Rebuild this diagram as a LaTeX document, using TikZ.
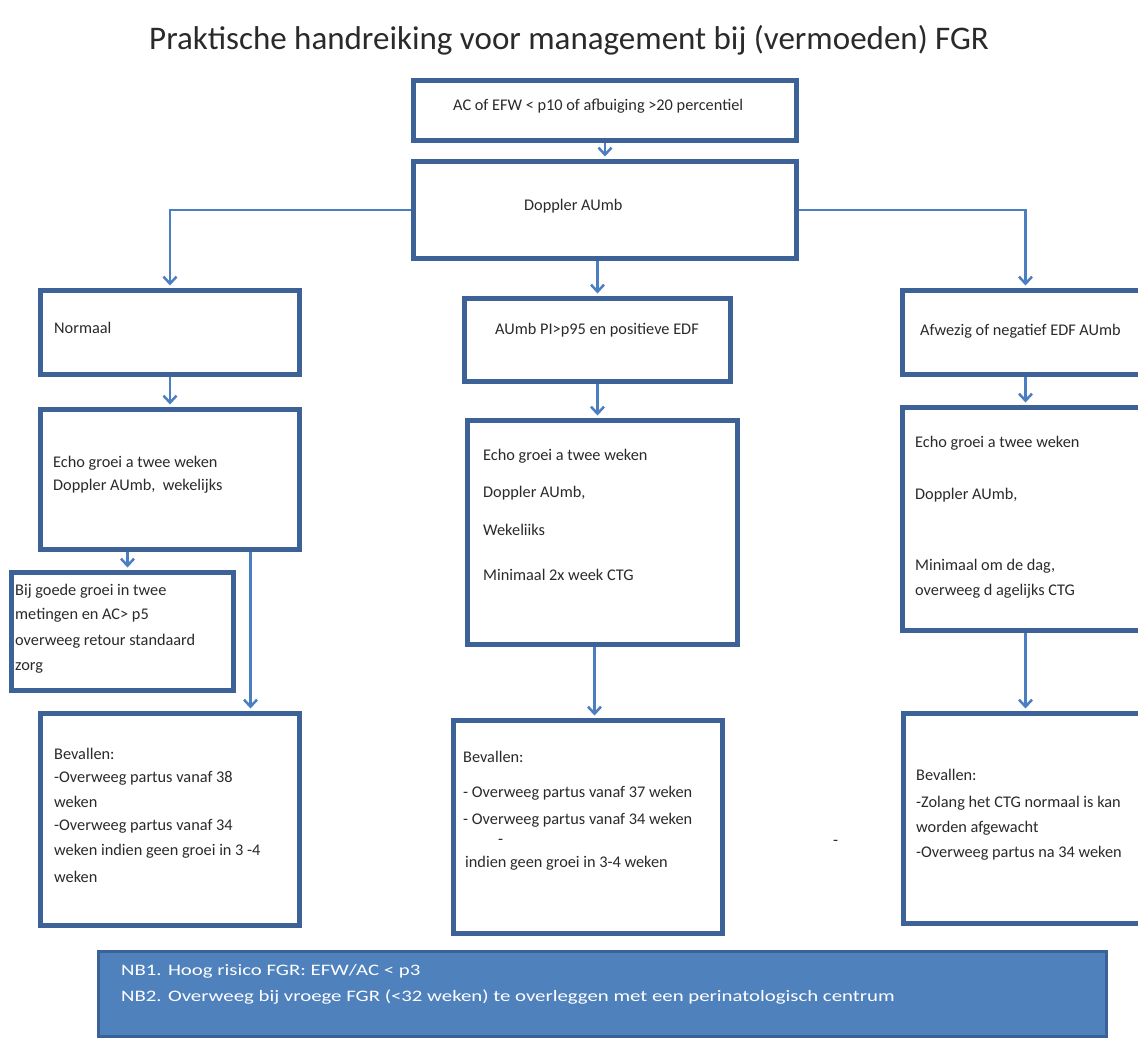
\documentclass[tikz,border=0pt]{standalone}
\usepackage{fontspec}
\setmainfont{Carlito}
\newfontfamily\nbfont[FakeStretch=1.3]{Carlito}
\usetikzlibrary{arrows.meta,calc}
\definecolor{boxc}{HTML}{3D6298}
\definecolor{arrc}{HTML}{4C7FC2}
\definecolor{nbfill}{HTML}{4F81BD}
\definecolor{nbline}{HTML}{3A6298}
\definecolor{txt}{HTML}{2A2A2A}
\tikzset{
  box/.style={draw=boxc, line width=5pt, inner sep=0pt, anchor=north west},
  lbl/.style={anchor=mid west, inner sep=0pt, text=txt, font=\fontsize{16.3}{18}\selectfont},
  nbtxt/.style={anchor=mid west, inner sep=0pt, text=white, font=\nbfont\fontsize{16}{18}\selectfont},
  arr/.style={draw=arrc, line width=2.5pt, -{Straight Barb[length=7pt,width=13pt,line width=2.5pt]}, shorten >=2.5pt},
}
\begin{document}
\begin{tikzpicture}[x=1pt,y=-1pt]
\useasboundingbox (0,0) rectangle (1138,1042);
\clip (0,0) rectangle (1138,1042);
\fill[white] (0,0) rectangle (1138,1042);
% title
\node[text=txt, font=\fontsize{33}{38}\selectfont, inner sep=0pt] (title) at (569,40) {Praktische handreiking voor management bij (vermoeden) FGR};
% boxes
\node[box, minimum width=383pt, minimum height=60pt] (b1) at (411,78) {};
\node[box, minimum width=383pt, minimum height=97pt] (b2) at (411,159) {};
\node[box, minimum width=259pt, minimum height=84pt] (norm) at (38,288) {};
\node[box, minimum width=266pt, minimum height=83pt] (mid) at (462,296) {};
\node[box, minimum width=246pt, minimum height=84pt] (afw) at (900,288) {};
\node[box, minimum width=259pt, minimum height=140pt] (echoL) at (38,407) {};
\node[box, minimum width=270pt, minimum height=224pt] (echoM) at (465,418) {};
\node[box, minimum width=246pt, minimum height=223pt] (echoR) at (900,405) {};
\node[box, minimum width=222pt, minimum height=118pt] (bij) at (9,570) {};
\node[box, minimum width=259pt, minimum height=212pt] (bevL) at (38,711) {};
\node[box, minimum width=269pt, minimum height=213pt] (bevM) at (451,718) {};
\node[box, minimum width=245pt, minimum height=210pt] (bevR) at (901,711) {};
\node[draw=nbline, fill=nbfill, line width=2.5pt, inner sep=0pt, anchor=north west, minimum width=1008pt, minimum height=85pt] (nb) at (97,950) {};
% texts
\node[lbl] (t1) at (453,108) {AC of EFW < p10 of afbuiging >20 percentiel};
\node[lbl] (t2) at (524,208) {Doppler AUmb};
\node[lbl] (t3) at (54,331) {Normaal};
\node[lbl] (t4) at (495,332) {AUmb PI>p95 en positieve EDF};
\node[lbl] (t5) at (920,333) {Afwezig of negatief EDF AUmb};
\node[lbl] (eL1) at (53,465) {Echo groei a twee weken};
\node[lbl] (eL2) at (53,488) {Doppler AUmb,\ \ wekelijks};
\node[lbl] (eM1) at (483,458) {Echo groei a twee weken};
\node[lbl] (eM2) at (483,495) {Doppler AUmb,};
\node[lbl] (eM3) at (483,533) {Wekeliiks};
\node[lbl] (eM4) at (483,578) {Minimaal 2x week CTG};
\node[lbl] (eR1) at (915,445) {Echo groei a twee weken};
\node[lbl] (eR2) at (915,497) {Doppler AUmb,};
\node[lbl] (eR3) at (915,568) {Minimaal om de dag,};
\node[lbl] (eR4) at (915,593) {overweeg d agelijks CTG};
\node[lbl] (bj1) at (15,593) {Bij goede groei in twee};
\node[lbl] (bj2) at (15,617) {metingen en AC> p5};
\node[lbl] (bj3) at (15,643) {overweeg retour standaard};
\node[lbl] (bj4) at (15,668) {zorg};
\node[lbl] (bL1) at (54,757) {Bevallen:};
\node[lbl] (bL2) at (54,780) {-Overweeg partus vanaf 38};
\node[lbl] (bL3) at (54,805) {weken};
\node[lbl] (bL4) at (54,828) {-Overweeg partus vanaf 34};
\node[lbl] (bL5) at (54,853) {weken indien geen groei in 3 -4};
\node[lbl] (bL6) at (54,880) {weken};
\node[lbl] (bM1) at (463,760) {Bevallen:};
\node[lbl] (bM2) at (463,795) {- Overweeg partus vanaf 37 weken};
\node[lbl] (bM3) at (463,822) {- Overweeg partus vanaf 34 weken};
\node[lbl] (bM4) at (498,842) {-};
\node[lbl] (bM5) at (465,865) {indien geen groei in 3-4 weken};
\node[lbl] (dash) at (833,843) {-};
\node[lbl] (bR1) at (916,778) {Bevallen:};
\node[lbl] (bR2) at (916,805) {-Zolang het CTG normaal is kan};
\node[lbl] (bR3) at (916,830) {worden afgewacht};
\node[lbl] (bR4) at (916,855) {-Overweeg partus na 34 weken};
\node[nbtxt] (nb1) at (121,973) {NB1. Hoog risico FGR: EFW/AC < p3};
\node[nbtxt] (nb2) at (121,999) {NB2. Overweeg bij vroege FGR (<32 weken) te overleggen met een perinatologisch centrum};
% connectors
\draw[arr] (b1.south) -- (b2.north);
\draw[arr] (b2.west) -| (norm.north);
\draw[arr] (b2.east) -| (afw.north);
\draw[arr] (b2.south -| mid.north) -- (mid.north);
\draw[arr] (norm.south) -- (echoL.north);
\draw[arr] (mid.south) -- (mid.south |- echoM.north);
\draw[arr] (afw.south) -- (echoR.north);
\coordinate (cB) at ([xshift=5pt]bij.north);
\coordinate (cL) at ([xshift=80.5pt]bevL.north);
\coordinate (cM) at ([xshift=6.5pt]bevM.north);
\draw[arr] (cB |- echoL.south) -- (cB);
\draw[arr] (cL |- echoL.south) -- (cL);
\draw[arr] (cM |- echoM.south) -- (cM);
\draw[arr] (echoR.south) -- (echoR.south |- bevR.north);
\end{tikzpicture}
\end{document}
